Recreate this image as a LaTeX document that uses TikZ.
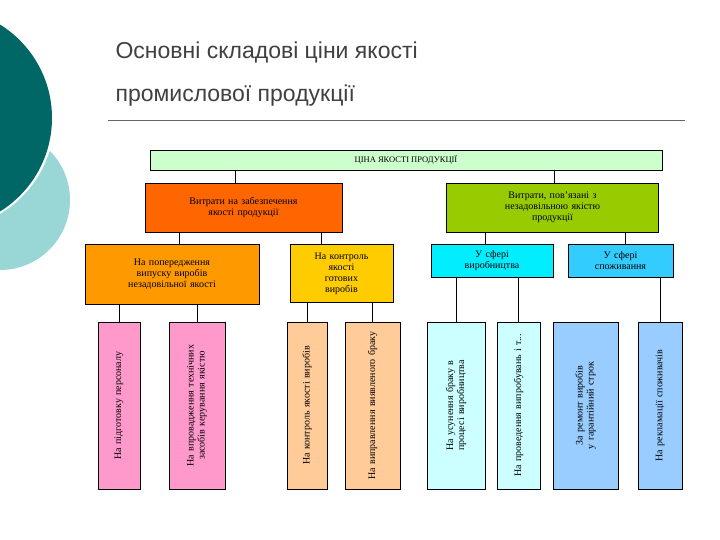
\documentclass[tikz,border=0pt]{standalone}
\usepackage{fontspec}
\setmainfont{Liberation Serif}
\newfontfamily\titlefont{Liberation Sans}
\definecolor{cLight}{RGB}{153,214,214}
\definecolor{cDark}{RGB}{0,102,102}
\definecolor{cTop}{RGB}{204,255,204}
\definecolor{cOr}{RGB}{255,102,0}
\definecolor{cGr}{RGB}{153,204,0}
\definecolor{cA}{RGB}{255,153,0}
\definecolor{cB}{RGB}{255,204,0}
\definecolor{cC}{RGB}{0,238,255}
\definecolor{cD}{RGB}{51,204,255}
\definecolor{cPink}{RGB}{255,153,204}
\definecolor{cPeach}{RGB}{255,204,153}
\definecolor{cLC}{RGB}{204,255,255}
\definecolor{cLB}{RGB}{153,204,255}
\begin{document}
\begin{tikzpicture}[x=1pt,y=-1pt,
  box/.style={draw=black,line width=0.6pt,align=center,font=\fontsize{10}{11}\selectfont,inner sep=1pt},
  lf/.style={font=\fontsize{10}{11}\selectfont,align=center,rotate=90,text width=150pt},
  conn/.style={draw=black,line width=0.6pt}]
\useasboundingbox (0,0) rectangle (720,540);
\fill[white] (0,0) rectangle (720,540);
\begin{scope}
\clip (0,0) rectangle (720,540);
\fill[cLight] (0,200) circle (70);
\fill[white] (-57,118) circle (111.5);
\fill[cDark] (-58,118) circle (110);
\end{scope}
\node[anchor=north west,align=left,font=\titlefont\fontsize{23}{43}\selectfont,text=black!75] (title) at (112,38) {Основні складові ціни якості\\промислової продукції};
\draw[black!60,line width=0.6pt] (108,120) -- (685,120);
% top
\node[box,fill=cTop,minimum width=512pt,minimum height=20pt] (top) at (406,160) {\fontsize{8.5}{9}\selectfont ЦІНА ЯКОСТІ ПРОДУКЦІЇ};
\node[box,fill=cOr,text width=195pt,minimum height=49pt] (or) at (243.5,207.5) {Витрати на забезпечення\\якості продукції};
\node[box,fill=cGr,text width=210pt,minimum height=49pt] (gr) at (552.5,207.5) {Витрати, пов'язані з\\незадовільною якістю\\продукції};
\node[box,fill=cA,text width=172pt,minimum height=60pt,anchor=north] (A) at (172,244) {На попередження\\випуску виробів\\незадовільної якості};
\node[box,fill=cB,text width=101pt,minimum height=58pt,anchor=north] (B) at (341.5,244) {На контроль\\якості\\готових\\виробів};
\node[box,fill=cC,text width=120pt,minimum height=33pt,anchor=north] (C) at (492,244) {У сфері\\виробництва};
\node[box,fill=cD,text width=103pt,minimum height=33pt,anchor=north] (D) at (620.5,244) {У сфері\\споживання};
% leaves
\foreach \n/\xa/\xb/\col/\t in {
 L1/98/140/cPink/{На підготовку персоналу},
 L2/169/225/cPink/{На впровадження технічних засобів керування якістю},
 L3/287/327/cPeach/{На контроль якості виробів},
 L4/345/400/cPeach/{На виправлення виявленого браку},
 L5/427/485/cLC/{На усунення браку в процесі виробництва},
 L6/497/540/cLC/{На проведення випробувань і т...},
 L7/553/618/cLB/{За ремонт виробів у гарантійний строк},
 L8/638/682/cLB/{На рекламації споживачів}}{
 \fill[fill=\col] (\xa,322) rectangle (\xb,489);
 \draw[line width=0.6pt] (\xa,322) rectangle (\xb,489);
 \coordinate (\n) at ({(\xa+\xb)/2},322);
 \node[lf] (\n t) at ({(\xa+\xb)/2},405.5) {\t};
}
% connectors
\draw[conn] (top.south -| 235,0) -- (or.north -| 235,0);
\draw[conn] (top.south -| 554,0) -- (gr.north -| 554,0);
\draw[conn] (or.south -| 179,0) -- (A.north -| 179,0);
\draw[conn] (or.south -| 321,0) -- (B.north -| 321,0);
\draw[conn] (gr.south -| 485,0) -- (C.north -| 485,0);
\draw[conn] (gr.south -| 625,0) -- (D.north -| 625,0);
\draw[conn] (A.south -| L1) -- (L1);
\draw[conn] (A.south -| L2) -- (L2);
\draw[conn] (B.south -| L3) -- (L3);
\draw[conn] (B.south -| L4) -- (L4);
\draw[conn] (C.south -| L5) -- (L5);
\draw[conn] (C.south -| L6) -- (L6);
\draw[conn] (D.south -| L8) -- (L8);
\end{tikzpicture}
\end{document}
